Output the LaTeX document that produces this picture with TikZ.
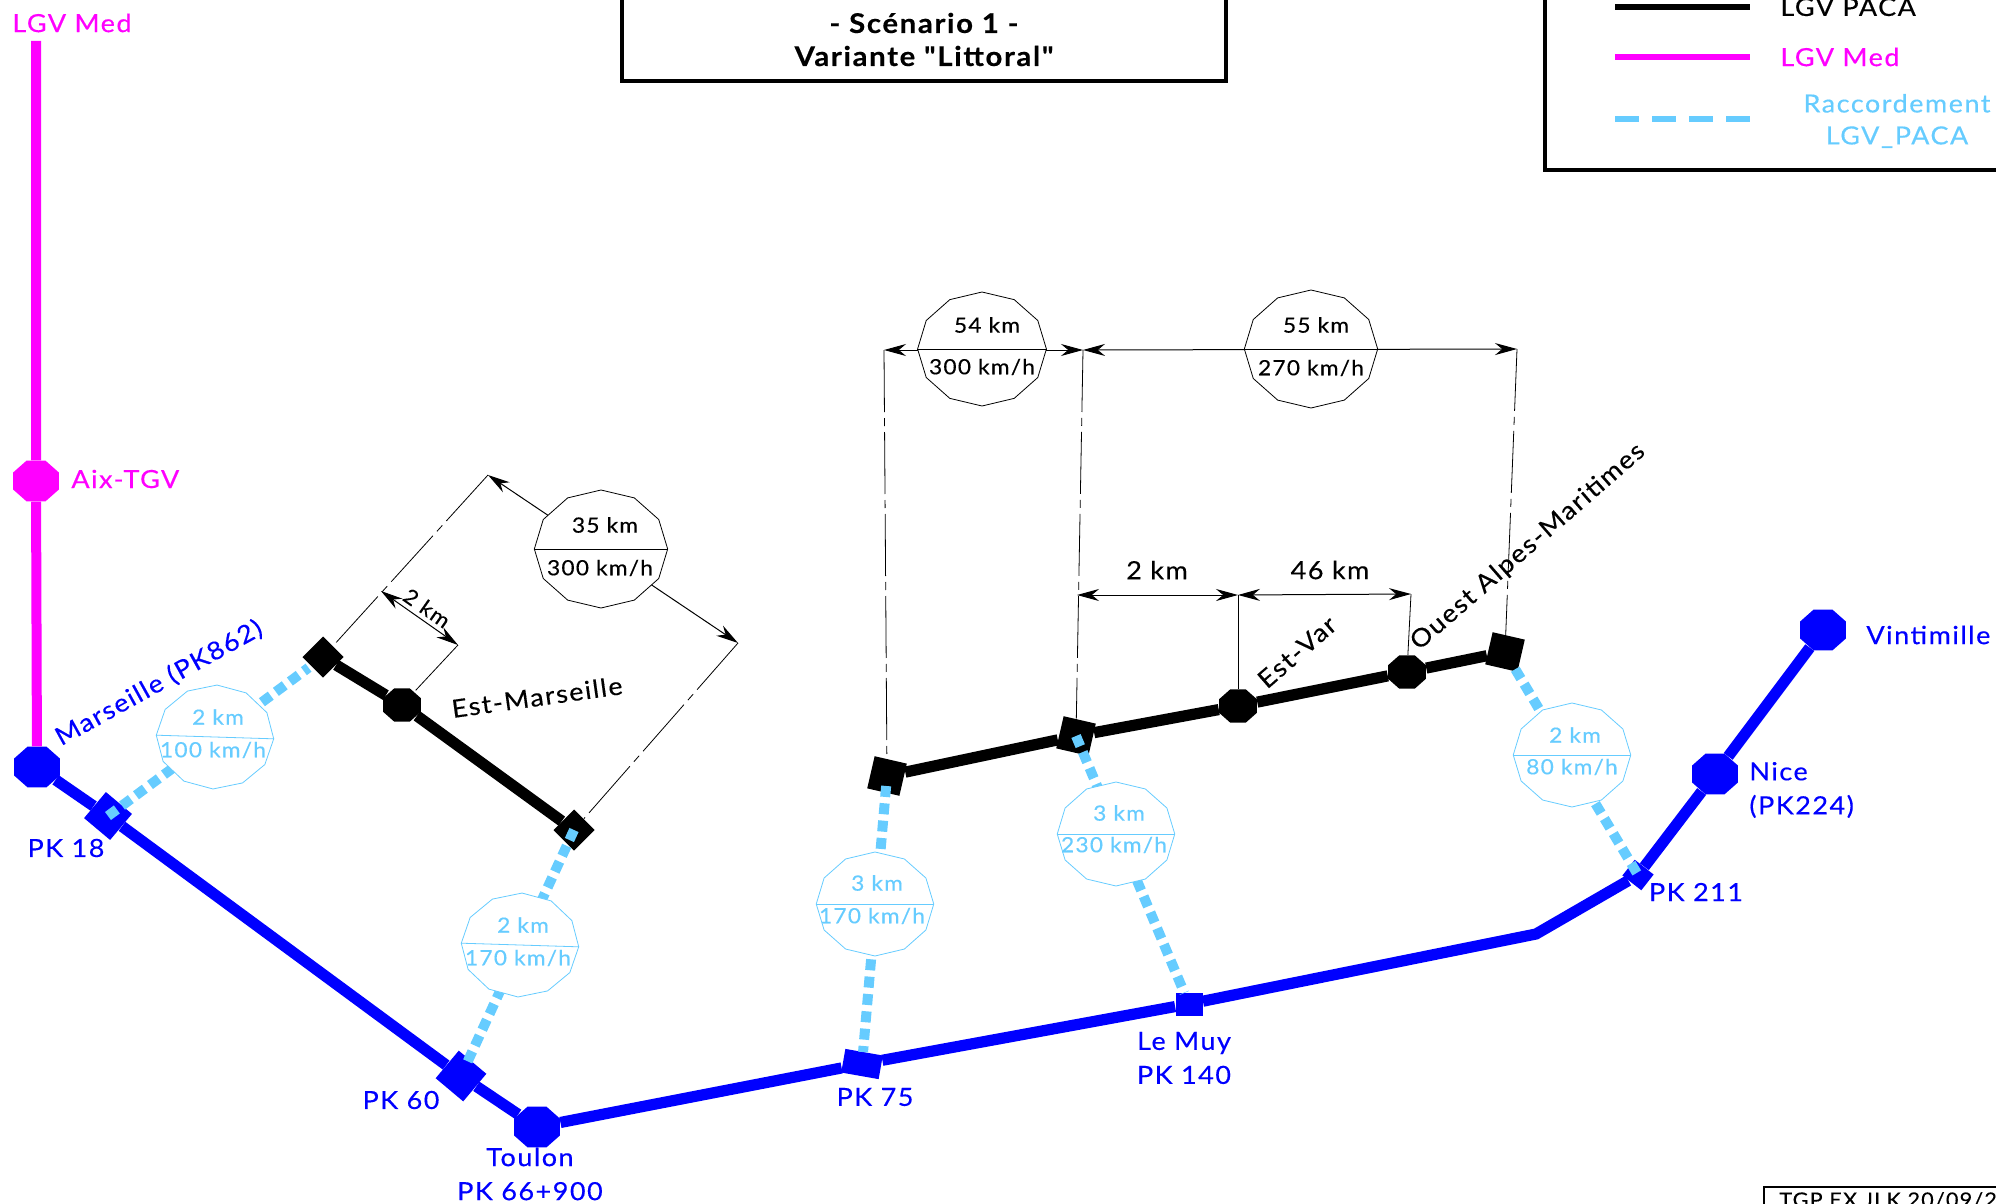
\documentclass[tikz,border=0pt]{standalone}
\usepackage{fontspec}
\defaultfontfeatures[\rmfamily]{}
\setmainfont{Lato}[LetterSpace=6,FakeStretch=1.08,FakeBold=0.3]
\usetikzlibrary{positioning,arrows.meta,shapes.geometric}
\definecolor{lgvblue}{HTML}{0000FF}
\definecolor{lgvmag}{HTML}{FF00FF}
\definecolor{lgvsky}{HTML}{66CCFF}
\tikzset{
  gare/.style   ={regular polygon,regular polygon sides=8,fill,inner sep=0pt,minimum size=22pt,xscale=1.13,transform shape},
  quai/.style   ={rectangle,fill,inner sep=0pt,minimum width=16pt,minimum height=16pt},
  ligne/.style  ={line width=5.6pt,line join=miter},
  raccord/.style={line width=5pt,draw=lgvsky,dash pattern=on 5.5pt off 3.2pt},
  cercle/.style ={regular polygon,regular polygon sides=12,shape border rotate=15,draw,fill=white,inner sep=0pt,line width=0.4pt,minimum size=52pt,xscale=1.13,transform shape},
  cote/.style   ={{Stealth[length=11pt,width=6pt]}-{Stealth[length=11pt,width=6pt]},line width=0.5pt},
  rappel/.style ={line width=0.4pt,dash pattern=on 31pt off 3pt on 4pt off 3pt},
  lbl/.style    ={font=\fontsize{12.5}{14}\selectfont,inner sep=0pt,align=center},
  lblc/.style   ={font=\fontsize{10.5}{12}\selectfont,inner sep=0pt},
  cadre/.style  ={line width=1.6pt},
}

\begin{document}
\begin{tikzpicture}[x=0.5pt,y=-0.5pt]
  \clip (0,0) rectangle (1996,1204);
  \useasboundingbox (0,0) rectangle (1996,1204);

  % cadres
  \coordinate (t1) at (622,-5);
  \coordinate (t2) at (622,81);
  \coordinate (t3) at (1226,81);
  \coordinate (t4) at (1226,-5);
  \draw[cadre] (t1) -- (t2) -- (t3) -- (t4);
  \node[lbl,font=\fontsize{13.6}{15}\bfseries] (titre1) at (924,23) {- Scénario 1 -};
  \node[lbl,font=\fontsize{13.6}{15}\bfseries] (titre2) at (924,56) {Variante "Littoral"};
  \coordinate (l1) at (1545,-5);
  \coordinate (l2) at (1545,170);
  \coordinate (l3) at (2005,170);
  \draw[cadre] (l1) -- (l2) -- (l3);
  \coordinate (c1) at (1764,1210);
  \coordinate (c2) at (1764,1187);
  \coordinate (c3) at (2005,1187);
  \draw[line width=1pt] (c1) -- (c2) -- (c3);
  \node[right,inner sep=0pt,font=\fontsize{10}{12}\selectfont] (visa) at (1779,1200) {TGP EX JLK 20/09/20};

  % legende
  \coordinate (la) at (1615,7);
  \coordinate (lb) at (1750,7);
  \coordinate (lc) at (1615,57);
  \coordinate (ld) at (1750,57);
  \coordinate (le) at (1615,119);
  \coordinate (lf) at (1750,119);
  \draw[line width=2.8pt] (la) -- (lb);
  \draw[line width=2.8pt,lgvmag] (lc) -- (ld);
  \draw[line width=2.8pt,lgvsky,dash pattern=on 12pt off 6.5pt] (le) -- (lf);
  \node[lbl,right] (lega) at (1780,7) {LGV PACA};
  \node[lbl,right,lgvmag] (legb) at (1780,57) {LGV Med};
  \node[lbl,lgvsky] (legc) at (1897,121) {Raccordement\\[2pt]LGV\_PACA};

  % gares et points kilometriques
  \node[gare,lgvmag] (aix) at (36,481) {};
  \node[gare,lgvblue] (marseille) at (37,767) {};
  \node[gare,lgvblue] (toulon) at (537,1127) {};
  \node[gare,lgvblue] (nice) at (1715,774) {};
  \node[gare,lgvblue] (vintimille) at (1823,630) {};
  \node[quai,lgvblue,rotate=-40,minimum size=17pt] (pk18) at (108,816) {};
  \node[quai,lgvblue,rotate=-40,minimum size=18pt] (pk60) at (461,1076) {};
  \node[quai,lgvblue,rotate=-10,minimum width=19pt,minimum height=12pt] (pk75) at (862,1064) {};
  \node[quai,lgvblue,minimum width=13.5pt,minimum height=11.5pt] (lemuy) at (1189,1004) {};
  \node[quai,lgvblue,rotate=-38,minimum width=12pt,minimum height=10pt] (pk211) at (1638,875) {};
  \coordinate (virage) at (1536,934);
  \coordinate (med) at (36,41);

  \draw[line width=5pt,lgvmag] (med) -- (aix) -- (marseille);
  \draw[ligne,lgvblue] (marseille) -- (pk18) -- (pk60) -- (toulon) -- (pk75) -- (lemuy) -- (virage) -- (pk211) -- (nice) -- (vintimille);

  % LGV PACA
  \node[quai,rotate=-45,minimum size=14.5pt] (em1) at (323,657) {};
  \node[gare,minimum size=18pt] (em2) at (402,705) {};
  \node[quai,rotate=-45,minimum size=14.5pt] (em3) at (574,830) {};
  \node[quai,rotate=-13,minimum size=16.5pt] (b1) at (887,776) {};
  \node[quai,rotate=-13,minimum size=16.5pt] (b2) at (1076,736) {};
  \node[gare,minimum size=18pt] (b3) at (1238,706) {};
  \node[gare,minimum size=18pt] (b4) at (1407,672) {};
  \node[quai,rotate=-13,minimum size=16.5pt] (b5) at (1505,652) {};
  \draw[ligne] (em1) -- (em2) -- (em3);
  \draw[ligne] (b1) -- (b2) -- (b3) -- (b4) -- (b5);

  % raccordements
  \draw[raccord,shorten >=9pt] (pk18.center) -- (em1.center);
  \draw[raccord,shorten >=8pt] (em3.center) -- (pk60.center);
  \draw[raccord,shorten <=5pt,shorten >=6pt] (b1.center) -- (pk75.center);
  \draw[raccord,shorten >=6pt] (b2.center) -- (lemuy.center);
  \draw[raccord,shorten <=10pt] (b5.center) -- (pk211.center);

  % cotes
  \coordinate (d1) at (884,350);
  \coordinate (d2) at (1083,350);
  \coordinate (d3) at (1517,349);
  \coordinate (d4) at (1077,595);
  \coordinate (d5) at (1238,595);
  \coordinate (d6) at (1411,594);
  \coordinate (d7) at (488,475);
  \coordinate (d8) at (738,643);
  \coordinate (d9) at (381,591);
  \coordinate (d10) at (458,645);
  \draw[cote] (d1) -- (d2);
  \draw[cote] (d2) -- (d3);
  \draw[cote] (d4) -- (d5);
  \draw[cote] (d5) -- (d6);
  \draw[cote] (d7) -- (d8);
  \draw[cote] (d9) -- (d10);
  \draw[rappel] (d1) -- (b1);
  \draw[rappel] (d2) -- (b2);
  \draw[rappel] (d3) -- (b5);
  \draw[line width=0.4pt] (d5) -- (b3);
  \draw[line width=0.4pt] (d6) -- (b4);
  \draw[rappel] (d7) -- (em1);
  \draw[rappel] (d8) -- (em3);
  \draw[rappel] (d10) -- (em2);

  % cercles
  \node[cercle,draw=lgvsky,rotate=-2] (v1) at (215,737) {};
  \node[cercle,draw=lgvsky,rotate=-2] (v2) at (520,945) {};
  \node[cercle,draw=lgvsky] (v3) at (875,904) {};
  \node[cercle,draw=lgvsky] (v4) at (1116,834) {};
  \node[cercle,draw=lgvsky] (v5) at (1572,755) {};
  \node[cercle,minimum size=57pt] (v6) at (982,349) {};
  \node[cercle,minimum size=59pt] (v7) at (1311,349) {};
  \node[cercle,minimum size=59pt] (v8) at (601,549) {};
  \draw[line width=0.4pt,lgvsky] (v1.west) -- (v1.east);
  \draw[line width=0.4pt,lgvsky] (v2.west) -- (v2.east);
  \draw[line width=0.4pt,lgvsky] (v3.west) -- (v3.east);
  \draw[line width=0.4pt,lgvsky] (v4.west) -- (v4.east);
  \draw[line width=0.4pt,lgvsky] (v5.west) -- (v5.east);
  \draw[line width=0.4pt] (v6.west) -- (v6.east);
  \draw[line width=0.4pt] (v7.west) -- (v7.east);
  \draw[line width=0.4pt] (v8.west) -- (v8.east);

  \node[lblc,lgvsky] (v1a) at (218,717) {2 km};
  \node[lblc,lgvsky] (v1b) at (213,750) {100 km/h};
  \node[lblc,lgvsky] (v2a) at (523,925) {2 km};
  \node[lblc,lgvsky] (v2b) at (518,958) {170 km/h};
  \node[lblc,lgvsky] (v3a) at (877,883) {3 km};
  \node[lblc,lgvsky] (v3b) at (872,916) {170 km/h};
  \node[lblc,lgvsky] (v4a) at (1119,813) {3 km};
  \node[lblc,lgvsky] (v4b) at (1114,845) {230 km/h};
  \node[lblc,lgvsky] (v5a) at (1575,735) {2 km};
  \node[lblc,lgvsky] (v5b) at (1572,767) {80 km/h};
  \node[lblc] (v6a) at (987,325) {54 km};
  \node[lblc] (v6b) at (982,367) {300 km/h};
  \node[lblc] (v7a) at (1316,325) {55 km};
  \node[lblc] (v7b) at (1311,368) {270 km/h};
  \node[lblc] (v8a) at (605,525) {35 km};
  \node[lblc] (v8b) at (600,568) {300 km/h};
  \node[lbl] (d2km) at (1157,570) {2 km};
  \node[lbl] (d46km) at (1330,570) {46 km};
  \node[lblc,rotate=-35] (d2kmb) at (427,608) {2 km};

  % libelles
  \node[lbl,lgvmag] (tmed) at (72,23) {LGV Med};
  \node[lbl,lgvmag,right] (taix) at (71,479) {Aix-TGV};
  \node[lbl,lgvblue,rotate=29] (tmars) at (159,683) {Marseille (PK862)};
  \node[lbl,lgvblue] (t18) at (66,848) {PK 18};
  \node[lbl,lgvblue] (t60) at (401,1100) {PK 60};
  \node[lbl,lgvblue] (ttoul) at (530,1174) {Toulon\\[3pt]PK 66+900};
  \node[lbl,lgvblue] (t75) at (875,1097) {PK 75};
  \node[lbl,lgvblue] (tmuy) at (1184,1058) {Le Muy\\[3pt]PK 140};
  \node[lbl,lgvblue] (t211) at (1696,892) {PK 211};
  \node[lbl,lgvblue,right,align=left] (tnice) at (1749,790) {Nice\\[3pt](PK224)};
  \node[lbl,lgvblue,right] (tvint) at (1866,635) {Vintimille};
  \node[lbl,rotate=8] (tem) at (537,697) {Est-Marseille};
  \node[lbl,rotate=41] (tev) at (1297,652) {Est-Var};
  \node[lbl,rotate=41] (toam) at (1528,547) {Ouest Alpes-Maritimes};
\end{tikzpicture}
\end{document}
